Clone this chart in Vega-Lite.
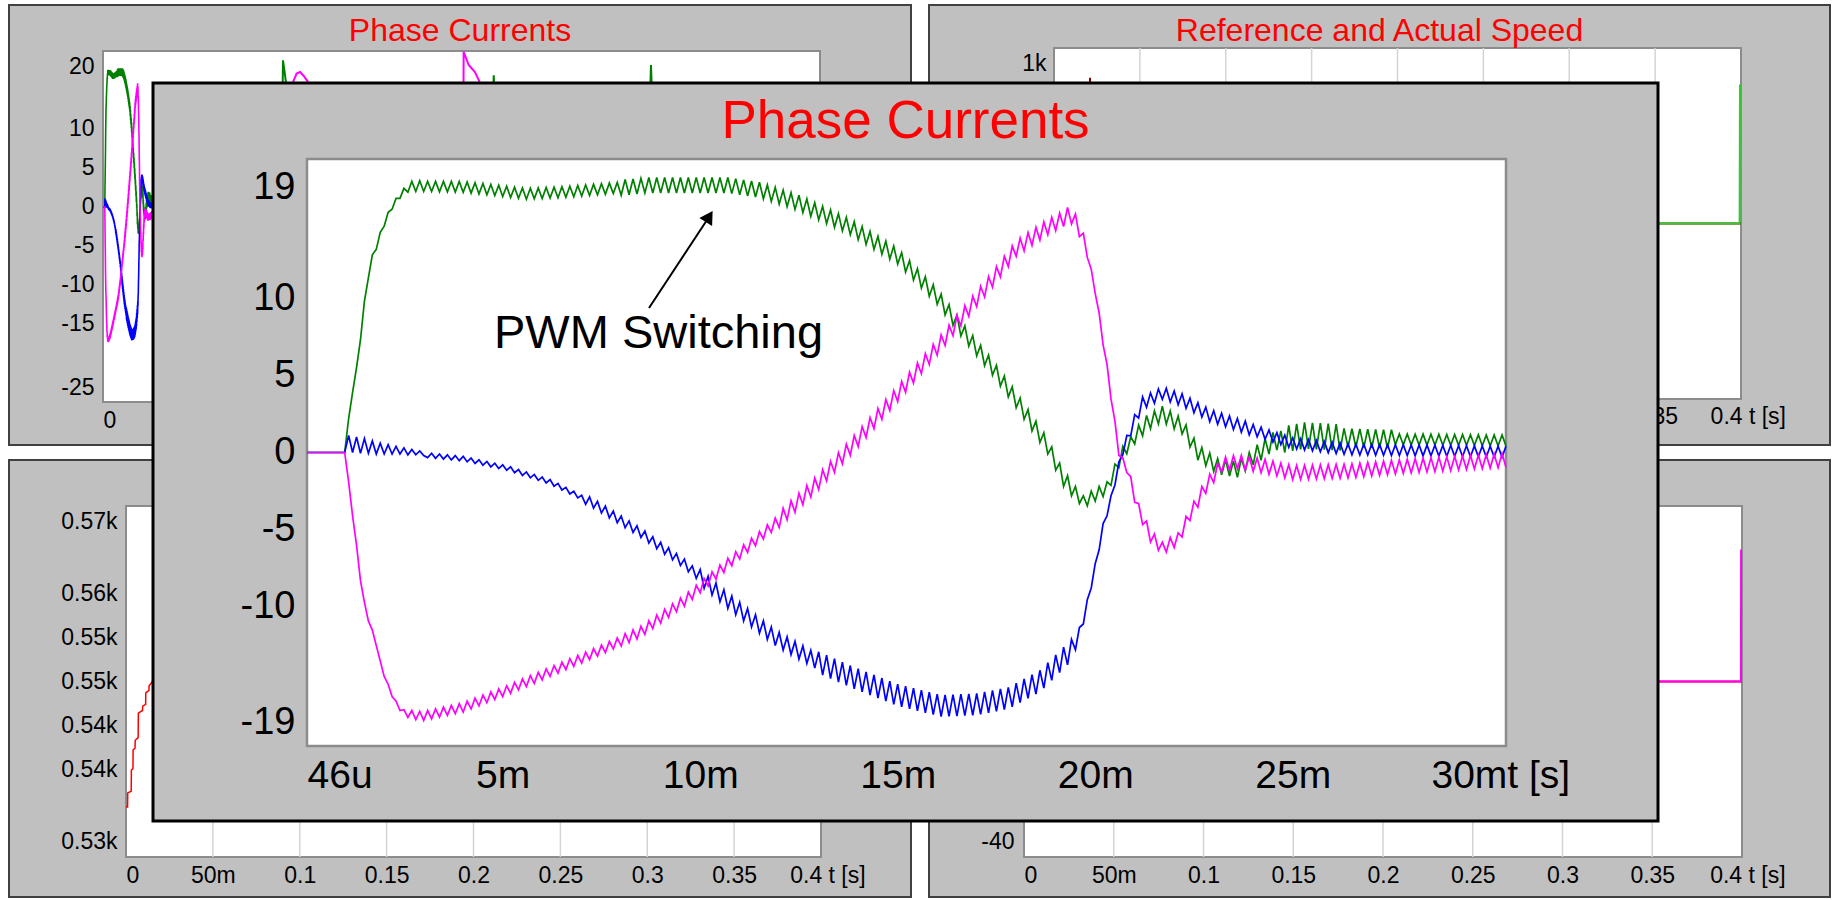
{
"$schema": "https://vega.github.io/schema/vega-lite/v6.json",
"background": "#ffffff",
"padding": {"left": 8, "top": 4, "right": 2, "bottom": 2},
"config": {
  "font": "Liberation Sans",
  "view": {"stroke": null},
  "axis": {"domain": false, "ticks": false, "grid": false, "labelColor": "#000000", "labelFont": "Liberation Sans", "labelOverlap": false, "labelFlush": false, "zindex": 1},
  "title": {"font": "Liberation Sans", "fontWeight": "normal", "color": "#ff0000", "anchor": "middle", "frame": "group", "baseline": "alphabetic"}
},
"datasets": {
  "bgx": [{"v":50},{"v":100},{"v":150},{"v":200},{"v":250},{"v":300},{"v":350}],
  "pc": [
{"t":0.046,"g":0,"b":0,"m":0},{"t":1.0,"g":0,"b":0,"m":0},
{"t":1.1,"g":2.2,"b":1.1,"m":-1.9},{"t":1.2,"g":3.9,"b":0,"m":-4.1},{"t":1.3,"g":5.5,"b":1.0,"m":-6.0},{"t":1.4,"g":7.3,"b":-0.05,"m":-8.3},{"t":1.5,"g":9.8,"b":0.9,"m":-9.7},{"t":1.6,"g":11.3,"b":-0.05,"m":-10.9},{"t":1.7,"g":12.8,"b":0.75,"m":-11.5},{"t":1.8,"g":13.15,"b":-0.1,"m":-12.5},{"t":1.9,"g":14.25,"b":0.6,"m":-13.5},{"t":2.0,"g":14.65,"b":-0.1,"m":-14.5},
{"t":2.1,"g":15.55,"b":0.5,"m":-15.0},{"t":2.2,"g":15.75,"b":-0.1,"m":-15.8},{"t":2.3,"g":16.45,"b":0.4,"m":-16.1},{"t":2.4,"g":16.45,"b":-0.1,"m":-16.7},{"t":2.5,"g":17.1,"b":0.3,"m":-16.65},{"t":2.6,"g":16.85,"b":-0.15,"m":-17.15},{"t":2.7,"g":17.55,"b":0.2,"m":-16.7},{"t":2.8,"g":16.9,"b":-0.15,"m":-17.3},{"t":2.9,"g":17.6,"b":0.1,"m":-16.75},{"t":3.0,"g":16.9,"b":-0.2,"m":-17.35},
{"t":3.1,"g":17.55,"b":-0.33,"m":-16.7},{"t":3.2,"g":16.9,"b":-0.05,"m":-17.24},{"t":3.3,"g":17.55,"b":-0.38,"m":-16.6},{"t":3.4,"g":16.87,"b":-0.1,"m":-17.13},{"t":3.5,"g":17.55,"b":-0.43,"m":-16.48},{"t":3.6,"g":16.87,"b":-0.15,"m":-17.02},{"t":3.7,"g":17.55,"b":-0.48,"m":-16.37},{"t":3.8,"g":16.86,"b":-0.2,"m":-16.91},{"t":3.9,"g":17.55,"b":-0.53,"m":-16.26},{"t":4.0,"g":16.85,"b":-0.25,"m":-16.8},
{"t":4.1,"g":17.52,"b":-0.6,"m":-16.1},{"t":4.2,"g":16.79,"b":-0.36,"m":-16.6},{"t":4.3,"g":17.47,"b":-0.71,"m":-15.9},{"t":4.4,"g":16.74,"b":-0.47,"m":-16.4},{"t":4.5,"g":17.41,"b":-0.82,"m":-15.7},{"t":4.6,"g":16.68,"b":-0.58,"m":-16.2},{"t":4.7,"g":17.35,"b":-0.93,"m":-15.5},{"t":4.8,"g":16.63,"b":-0.69,"m":-16.0},{"t":4.9,"g":17.3,"b":-1.04,"m":-15.3},{"t":5.0,"g":16.57,"b":-0.8,"m":-15.8},
{"t":5.1,"g":17.24,"b":-1.15,"m":-15.1},{"t":5.2,"g":16.51,"b":-0.93,"m":-15.59},{"t":5.3,"g":17.18,"b":-1.31,"m":-14.88},{"t":5.4,"g":16.46,"b":-1.1,"m":-15.37},{"t":5.5,"g":17.13,"b":-1.48,"m":-14.66},{"t":5.6,"g":16.4,"b":-1.26,"m":-15.15},{"t":5.7,"g":17.11,"b":-1.64,"m":-14.45},{"t":5.8,"g":16.42,"b":-1.42,"m":-14.94},{"t":5.9,"g":17.13,"b":-1.8,"m":-14.23},{"t":6.0,"g":16.44,"b":-1.59,"m":-14.72},
{"t":6.1,"g":17.16,"b":-1.97,"m":-14.01},{"t":6.2,"g":16.47,"b":-1.75,"m":-14.5},{"t":6.3,"g":17.18,"b":-2.18,"m":-13.79},{"t":6.4,"g":16.49,"b":-2.0,"m":-14.28},{"t":6.5,"g":17.2,"b":-2.43,"m":-13.57},{"t":6.6,"g":16.52,"b":-2.26,"m":-14.06},{"t":6.7,"g":17.24,"b":-2.69,"m":-13.35},{"t":6.8,"g":16.56,"b":-2.51,"m":-13.85},{"t":6.9,"g":17.28,"b":-2.94,"m":-13.14},{"t":7.0,"g":16.6,"b":-2.77,"m":-13.63},
{"t":7.1,"g":17.32,"b":-3.35,"m":-12.92},{"t":7.2,"g":16.64,"b":-2.87,"m":-13.41},{"t":7.3,"g":17.36,"b":-3.6,"m":-12.7},{"t":7.4,"g":16.68,"b":-3.16,"m":-13.18},{"t":7.5,"g":17.4,"b":-3.92,"m":-12.47},{"t":7.6,"g":16.72,"b":-3.47,"m":-12.95},{"t":7.7,"g":17.44,"b":-4.23,"m":-12.23},{"t":7.8,"g":16.76,"b":-3.79,"m":-12.72},{"t":7.9,"g":17.48,"b":-4.55,"m":-12.0},{"t":8.0,"g":16.65,"b":-4.11,"m":-12.53},
{"t":8.1,"g":17.67,"b":-4.87,"m":-11.72},{"t":8.2,"g":16.69,"b":-4.43,"m":-12.3},{"t":8.3,"g":17.71,"b":-5.18,"m":-11.48},{"t":8.4,"g":16.73,"b":-4.74,"m":-12.07},{"t":8.5,"g":17.75,"b":-5.5,"m":-11.25},{"t":8.6,"g":16.8,"b":-5.08,"m":-11.77},{"t":8.7,"g":17.8,"b":-5.86,"m":-10.89},{"t":8.8,"g":16.8,"b":-5.45,"m":-11.4},{"t":8.9,"g":17.8,"b":-6.23,"m":-10.52},{"t":9.0,"g":16.8,"b":-5.81,"m":-11.04},
{"t":9.1,"g":17.8,"b":-6.59,"m":-10.16},{"t":9.2,"g":16.8,"b":-6.17,"m":-10.68},{"t":9.3,"g":17.8,"b":-6.95,"m":-9.8},{"t":9.4,"g":16.8,"b":-6.54,"m":-10.31},{"t":9.5,"g":17.8,"b":-7.32,"m":-9.43},{"t":9.6,"g":16.8,"b":-6.9,"m":-9.95},{"t":9.7,"g":17.8,"b":-7.72,"m":-9.03},{"t":9.8,"g":16.8,"b":-7.34,"m":-9.51},{"t":9.9,"g":17.8,"b":-8.15,"m":-8.6},{"t":10.0,"g":16.8,"b":-7.57,"m":-9.08},
{"t":10.1,"g":17.8,"b":-8.79,"m":-8.16},{"t":10.2,"g":16.8,"b":-8.01,"m":-8.64},{"t":10.3,"g":17.8,"b":-9.23,"m":-7.72},{"t":10.4,"g":16.8,"b":-8.45,"m":-8.2},{"t":10.5,"g":17.8,"b":-9.66,"m":-7.29},{"t":10.6,"g":16.8,"b":-8.88,"m":-7.77},{"t":10.7,"g":17.8,"b":-10.1,"m":-6.85},{"t":10.8,"g":16.76,"b":-9.3,"m":-7.33},{"t":10.9,"g":17.73,"b":-10.5,"m":-6.42},{"t":11.0,"g":16.69,"b":-9.7,"m":-6.9},
{"t":11.1,"g":17.65,"b":-10.9,"m":-5.98},{"t":11.2,"g":16.61,"b":-10.1,"m":-6.47},{"t":11.3,"g":17.58,"b":-11.3,"m":-5.55},{"t":11.4,"g":16.54,"b":-10.5,"m":-6.03},{"t":11.5,"g":17.5,"b":-11.7,"m":-5.12},{"t":11.6,"g":16.42,"b":-10.9,"m":-5.6},{"t":11.7,"g":17.33,"b":-12.1,"m":-4.68},{"t":11.8,"g":16.25,"b":-11.3,"m":-5.17},{"t":11.9,"g":17.16,"b":-12.5,"m":-4.25},{"t":12.0,"g":16.08,"b":-11.65,"m":-4.85},
{"t":12.1,"g":16.99,"b":-12.79,"m":-3.61},{"t":12.2,"g":15.91,"b":-11.94,"m":-4.36},{"t":12.3,"g":16.82,"b":-13.08,"m":-3.12},{"t":12.4,"g":15.74,"b":-12.23,"m":-3.87},{"t":12.5,"g":16.65,"b":-13.37,"m":-2.63},{"t":12.6,"g":15.53,"b":-12.52,"m":-3.38},{"t":12.7,"g":16.41,"b":-13.66,"m":-2.14},{"t":12.8,"g":15.29,"b":-12.81,"m":-2.89},{"t":12.9,"g":16.17,"b":-13.95,"m":-1.65},{"t":13.0,"g":15.06,"b":-12.9,"m":-2.4},
{"t":13.1,"g":15.94,"b":-14.41,"m":-1.12},{"t":13.2,"g":14.82,"b":-13.12,"m":-1.84},{"t":13.3,"g":15.7,"b":-14.63,"m":-0.57},{"t":13.4,"g":14.58,"b":-13.34,"m":-1.29},{"t":13.5,"g":15.46,"b":-14.86,"m":-0.01},{"t":13.6,"g":14.34,"b":-13.57,"m":-0.73},{"t":13.7,"g":15.22,"b":-15.08,"m":0.54},{"t":13.8,"g":14.1,"b":-13.79,"m":-0.18},{"t":13.9,"g":14.94,"b":-15.3,"m":1.1},{"t":14.0,"g":13.78,"b":-14.0,"m":0.39},
{"t":14.1,"g":14.63,"b":-15.5,"m":1.68},{"t":14.2,"g":13.47,"b":-14.2,"m":0.97},{"t":14.3,"g":14.31,"b":-15.7,"m":2.26},{"t":14.4,"g":13.15,"b":-14.4,"m":1.55},{"t":14.5,"g":13.99,"b":-15.9,"m":2.85},{"t":14.6,"g":12.83,"b":-14.6,"m":2.14},{"t":14.7,"g":13.68,"b":-16.1,"m":3.43},{"t":14.8,"g":12.52,"b":-14.8,"m":2.72},{"t":14.9,"g":13.36,"b":-16.3,"m":4.01},{"t":15.0,"g":12.2,"b":-15.0,"m":3.3},
{"t":15.1,"g":12.94,"b":-16.46,"m":4.6},{"t":15.2,"g":11.68,"b":-15.13,"m":3.9},{"t":15.3,"g":12.42,"b":-16.59,"m":5.2},{"t":15.4,"g":11.16,"b":-15.25,"m":4.5},{"t":15.5,"g":11.9,"b":-16.72,"m":5.8},{"t":15.6,"g":10.64,"b":-15.38,"m":5.1},{"t":15.7,"g":11.38,"b":-16.85,"m":6.4},{"t":15.8,"g":10.12,"b":-15.51,"m":5.7},{"t":15.9,"g":10.86,"b":-16.97,"m":7.0},{"t":16.0,"g":9.6,"b":-15.64,"m":6.3},
{"t":16.1,"g":10.26,"b":-17.1,"m":7.61},{"t":16.2,"g":8.91,"b":-15.69,"m":6.93},{"t":16.3,"g":9.57,"b":-17.08,"m":8.24},{"t":16.4,"g":8.23,"b":-15.67,"m":7.56},{"t":16.5,"g":8.89,"b":-17.06,"m":8.87},{"t":16.6,"g":7.54,"b":-15.64,"m":8.19},{"t":16.7,"g":8.2,"b":-17.03,"m":9.5},{"t":16.8,"g":6.89,"b":-15.62,"m":8.81},{"t":16.9,"g":7.57,"b":-17.01,"m":10.13},{"t":17.0,"g":6.26,"b":-15.6,"m":9.44},
{"t":17.1,"g":6.94,"b":-16.95,"m":10.76},{"t":17.2,"g":5.63,"b":-15.5,"m":10.07},{"t":17.3,"g":6.31,"b":-16.85,"m":11.39},{"t":17.4,"g":5.0,"b":-15.4,"m":10.7},{"t":17.5,"g":5.65,"b":-16.75,"m":12.03},{"t":17.6,"g":4.3,"b":-15.3,"m":11.37},{"t":17.7,"g":4.95,"b":-16.65,"m":12.7},{"t":17.8,"g":3.6,"b":-15.2,"m":12.03},{"t":17.9,"g":4.25,"b":-16.46,"m":13.37},{"t":18.0,"g":2.9,"b":-14.93,"m":12.7},
{"t":18.1,"g":3.53,"b":-16.19,"m":13.88},{"t":18.2,"g":2.15,"b":-14.65,"m":13.05},{"t":18.3,"g":2.78,"b":-15.91,"m":14.23},{"t":18.4,"g":1.4,"b":-14.38,"m":13.4},{"t":18.5,"g":2.03,"b":-15.64,"m":14.58},{"t":18.6,"g":0.65,"b":-14.1,"m":13.75},{"t":18.7,"g":1.28,"b":-15.25,"m":14.93},{"t":18.8,"g":-0.1,"b":-13.6,"m":14.1},{"t":18.9,"g":0.37,"b":-14.75,"m":15.23},{"t":19.0,"g":-1.15,"b":-13.1,"m":14.37},
{"t":19.1,"g":-0.68,"b":-14.25,"m":15.5},{"t":19.2,"g":-2.2,"b":-12.6,"m":14.63},{"t":19.3,"g":-1.5,"b":-13.75,"m":15.87},{"t":19.4,"g":-2.8,"b":-12.1,"m":14.8},{"t":19.5,"g":-2.2,"b":-12.77,"m":15.43},{"t":19.6,"g":-3.3,"b":-11.33,"m":13.97},{"t":19.7,"g":-2.8,"b":-11.1,"m":14.2},{"t":19.8,"g":-3.45,"b":-9.53,"m":12.63},{"t":19.9,"g":-2.5,"b":-8.77,"m":11.87},{"t":20.0,"g":-3.15,"b":-7.2,"m":10.3},
{"t":20.1,"g":-2.2,"b":-6.3,"m":9.03},{"t":20.2,"g":-2.85,"b":-4.6,"m":6.97},{"t":20.3,"g":-1.9,"b":-4.1,"m":5.7},{"t":20.4,"g":-2.13,"b":-2.8,"m":3.47},{"t":20.5,"g":-0.75,"b":-2.1,"m":2.03},{"t":20.6,"g":-0.98,"b":-0.6,"m":-0.2},{"t":20.7,"g":0.4,"b":-0.15,"m":-0.35},{"t":20.8,"g":-0.08,"b":1.1,"m":-1.3},{"t":20.9,"g":1.03,"b":1.08,"m":-1.57},{"t":21.0,"g":0.55,"b":2.45,"m":-3.23},
{"t":21.1,"g":1.77,"b":2.23,"m":-3.3},{"t":21.2,"g":1.08,"b":3.6,"m":-4.67},{"t":21.3,"g":2.4,"b":2.93,"m":-4.43},{"t":21.4,"g":1.55,"b":3.86,"m":-5.8},{"t":21.5,"g":2.7,"b":3.19,"m":-5.27},{"t":21.6,"g":1.85,"b":4.12,"m":-6.33},{"t":21.7,"g":3.0,"b":3.45,"m":-5.8},{"t":21.8,"g":1.84,"b":4.16,"m":-6.45},{"t":21.9,"g":2.68,"b":3.27,"m":-5.5},{"t":22.0,"g":1.52,"b":3.98,"m":-6.15},
{"t":22.1,"g":2.36,"b":3.09,"m":-5.2},{"t":22.2,"g":1.2,"b":3.8,"m":-5.47},{"t":22.3,"g":1.78,"b":2.86,"m":-4.13},{"t":22.4,"g":0.35,"b":3.51,"m":-4.4},{"t":22.5,"g":0.93,"b":2.57,"m":-3.15},{"t":22.6,"g":-0.5,"b":3.23,"m":-3.55},{"t":22.7,"g":0.32,"b":2.29,"m":-2.2},{"t":22.8,"g":-0.86,"b":2.94,"m":-2.65},{"t":22.9,"g":-0.04,"b":2.0,"m":-1.4},{"t":23.0,"g":-1.22,"b":2.71,"m":-1.95},
{"t":23.1,"g":-0.4,"b":1.83,"m":-0.7},{"t":23.2,"g":-1.44,"b":2.54,"m":-1.25},{"t":23.3,"g":-0.48,"b":1.66,"m":-0.3},{"t":23.4,"g":-1.52,"b":2.37,"m":-1.15},{"t":23.5,"g":-0.56,"b":1.49,"m":-0.2},{"t":23.6,"g":-1.6,"b":2.2,"m":-1.05},{"t":23.7,"g":-0.4,"b":1.31,"m":-0.19},{"t":23.8,"g":-1.2,"b":2.03,"m":-1.14},{"t":23.9,"g":0.0,"b":1.14,"m":-0.28},{"t":24.0,"g":-0.8,"b":1.81,"m":-1.22},
{"t":24.1,"g":0.5,"b":1.02,"m":-0.36},{"t":24.2,"g":-0.5,"b":1.64,"m":-1.31},{"t":24.3,"g":0.9,"b":0.85,"m":-0.45},{"t":24.4,"g":-0.1,"b":1.46,"m":-1.41},{"t":24.5,"g":1.3,"b":0.68,"m":-0.56},{"t":24.6,"g":0.15,"b":1.29,"m":-1.52},{"t":24.7,"g":1.4,"b":0.51,"m":-0.68},{"t":24.8,"g":0.0,"b":1.12,"m":-1.64},{"t":24.9,"g":1.75,"b":0.34,"m":-0.79},{"t":25.0,"g":0.1,"b":0.95,"m":-1.75},
{"t":25.1,"g":1.85,"b":0.22,"m":-0.84},{"t":25.2,"g":0.2,"b":0.89,"m":-1.74},{"t":25.3,"g":1.95,"b":0.16,"m":-0.83},{"t":25.4,"g":0.24,"b":0.84,"m":-1.72},{"t":25.5,"g":1.92,"b":0.11,"m":-0.82},{"t":25.6,"g":0.21,"b":0.78,"m":-1.71},{"t":25.7,"g":1.9,"b":0.05,"m":-0.8},{"t":25.8,"g":0.18,"b":0.72,"m":-1.69},{"t":25.9,"g":1.87,"b":-0.01,"m":-0.79},{"t":26.0,"g":0.15,"b":0.66,"m":-1.68},
{"t":26.1,"g":1.84,"b":-0.06,"m":-0.77},{"t":26.2,"g":0.13,"b":0.61,"m":-1.66},{"t":26.3,"g":1.56,"b":-0.12,"m":-0.76},{"t":26.4,"g":0.35,"b":0.55,"m":-1.65},{"t":26.5,"g":1.54,"b":-0.15,"m":-0.73},{"t":26.6,"g":0.34,"b":0.54,"m":-1.61},{"t":26.7,"g":1.53,"b":-0.16,"m":-0.69},{"t":26.8,"g":0.32,"b":0.54,"m":-1.56},{"t":26.9,"g":1.51,"b":-0.17,"m":-0.64},{"t":27.0,"g":0.31,"b":0.53,"m":-1.52},
{"t":27.1,"g":1.5,"b":-0.18,"m":-0.6},{"t":27.2,"g":0.29,"b":0.52,"m":-1.48},{"t":27.3,"g":1.48,"b":-0.18,"m":-0.56},{"t":27.4,"g":0.28,"b":0.51,"m":-1.44},{"t":27.5,"g":1.47,"b":-0.19,"m":-0.51},{"t":27.6,"g":0.51,"b":0.5,"m":-1.39},{"t":27.7,"g":1.2,"b":-0.2,"m":-0.47},{"t":27.8,"g":0.5,"b":0.5,"m":-1.35},{"t":27.9,"g":1.2,"b":-0.2,"m":-0.43},{"t":28.0,"g":0.49,"b":0.49,"m":-1.32},
{"t":28.1,"g":1.19,"b":-0.21,"m":-0.4},{"t":28.2,"g":0.49,"b":0.49,"m":-1.29},{"t":28.3,"g":1.19,"b":-0.22,"m":-0.37},{"t":28.4,"g":0.48,"b":0.48,"m":-1.26},{"t":28.5,"g":1.18,"b":-0.22,"m":-0.34},{"t":28.6,"g":0.48,"b":0.47,"m":-1.23},{"t":28.7,"g":1.18,"b":-0.23,"m":-0.31},{"t":28.8,"g":0.47,"b":0.46,"m":-1.2},{"t":28.9,"g":1.17,"b":-0.24,"m":-0.28},{"t":29.0,"g":0.47,"b":0.45,"m":-1.17},
{"t":29.1,"g":1.17,"b":-0.25,"m":-0.25},{"t":29.2,"g":0.46,"b":0.44,"m":-1.13},{"t":29.3,"g":1.16,"b":-0.26,"m":-0.22},{"t":29.4,"g":0.46,"b":0.44,"m":-1.1},{"t":29.5,"g":1.15,"b":-0.27,"m":-0.19},{"t":29.6,"g":0.45,"b":0.43,"m":-1.07},{"t":29.7,"g":1.15,"b":-0.28,"m":-0.16},{"t":29.8,"g":0.44,"b":0.42,"m":-1.04},{"t":29.9,"g":1.14,"b":-0.29,"m":-0.13},{"t":30.0,"g":0.44,"b":0.41,"m":-1.01},
{"t":30.1,"g":1.14,"b":-0.29,"m":-0.1},{"t":30.2,"g":0.43,"b":0.41,"m":-0.98},{"t":30.3,"g":1.13,"b":-0.3,"m":-0.07},{"t":30.4,"g":0.43,"b":0.4,"m":-0.95}
  ],
  "pcx": [
{"t":30.4,"s":"g","i":0.43},{"t":99.5,"s":"g","i":0.5},{"t":100.4,"s":"g","i":18.8},{"t":101.2,"s":"g","i":17.5},{"t":102.5,"s":"g","i":15.2},{"t":104,"s":"g","i":8},{"t":106,"s":"g","i":2},{"t":110,"s":"g","i":0.5},{"t":215.5,"s":"g","i":0.5},{"t":218,"s":"g","i":16.9},{"t":220.5,"s":"g","i":0.5},{"t":303.5,"s":"g","i":0.5},{"t":305.7,"s":"g","i":18.2},{"t":308.5,"s":"g","i":0.5},{"t":400,"s":"g","i":0.5},
{"t":30.4,"s":"b","i":0.4},{"t":400,"s":"b","i":0},
{"t":30.4,"s":"m","i":-0.95},{"t":104.5,"s":"m","i":-0.5},{"t":106,"s":"m","i":16},{"t":108,"s":"m","i":17.1},{"t":110,"s":"m","i":17.3},{"t":112,"s":"m","i":16.8},{"t":114.4,"s":"m","i":16},{"t":117,"s":"m","i":6},{"t":120,"s":"m","i":0},{"t":200.8,"s":"m","i":0},{"t":201.2,"s":"m","i":19.9},{"t":204,"s":"m","i":18.2},{"t":207.5,"s":"m","i":17.3},{"t":210,"s":"m","i":16.1},{"t":213,"s":"m","i":9},{"t":216,"s":"m","i":0},{"t":400,"s":"m","i":0}
  ],
  "spd": [
{"t":0,"v":535.7},{"t":0.9,"v":535.7},{"t":1.0,"v":537.3},{"t":3.0,"v":537.5},{"t":3.1,"v":539.9},{"t":4.0,"v":540.1},{"t":4.1,"v":542.2},{"t":5.2,"v":542.4},{"t":5.3,"v":543.3},{"t":7.0,"v":543.6},{"t":7.1,"v":546.4},{"t":9.5,"v":546.7},{"t":9.6,"v":547.2},{"t":11.3,"v":547.4},{"t":11.4,"v":548.7},{"t":13.2,"v":549.0},{"t":13.3,"v":549.5},{"t":14.5,"v":549.8},{"t":16,"v":550.3},{"t":25,"v":552},{"t":50,"v":555},{"t":100,"v":556},{"t":400,"v":556}
  ],
  "ras": [
{"t":0,"s":"ref","v":0},{"t":20.5,"s":"ref","v":0},{"t":21,"s":"ref","v":830},{"t":21.5,"s":"ref","v":0},{"t":400,"s":"ref","v":0},
{"t":0,"s":"act","v":0},{"t":399.2,"s":"act","v":0},{"t":399.4,"s":"act","v":792}
  ],
  "trq": [
{"t":0,"s":"tqr","v":0},{"t":400,"s":"tqr","v":0},
{"t":0,"s":"tq","v":0},{"t":399.4,"s":"tq","v":0},{"t":399.5,"s":"tq","v":30.1}
  ]
},
"concat": [
 {"vconcat": [
  {"hconcat": [
   {
    "width": 902, "height": 440,
    "view": {"fill": "#c0c0c0", "stroke": "#404040", "strokeWidth": 2},
    "title": {"text": "Phase Currents", "fontSize": 32, "offset": -43},
    "encoding": {
     "x": {"field": "t", "type": "quantitative", "scale": {"domain": [-52.441, 450.767], "nice": false, "zero": false},
           "axis": {"title": null, "values": [0,50,100,150,200,250,300,350,382], "labelExpr": "datum.value == 0 ? '0' : datum.value == 50 ? '50m' : datum.value > 380 ? '0.4 t [s]' : '' + (datum.value / 1000)", "labelAlign": {"condition": {"test": "datum.value == 0 || datum.value > 380", "value": "left"}, "value": "center"}, "labelFontSize": 23, "labelPadding": 25, "labelBaseline": "alphabetic", "offset": -43}},
     "y": {"field": "i", "type": "quantitative", "scale": {"domain": [-30.513, 25.897], "nice": false, "zero": false},
           "axis": {"title": null, "values": [17.95,10,5,0,-5,-10,-15,-23.08], "labelExpr": "datum.value > 17 ? '20' : datum.value < -22 ? '-25' : '' + datum.value", "labelFontSize": 23, "labelPadding": 9, "offset": -94}}
    },
    "layer": [
     {"data": {"values": [{"t": 0, "t2": 400, "i": -25, "i2": 20}]}, "mark": {"type": "rect", "fill": "#ffffff", "stroke": "#8c8c8c", "strokeWidth": 2},
      "encoding": {"x2": {"field": "t2"}, "y2": {"field": "i2"}}},
     {"data": {"name": "bgx"}, "mark": {"type": "rule", "color": "#d4d4d4", "strokeWidth": 1.5},
      "encoding": {"x": {"field": "v", "type": "quantitative"}, "y": {"datum": -25}, "y2": {"datum": 20}}},
     {"data": {"values": [{"v":15},{"v":10},{"v":5},{"v":-5},{"v":-10},{"v":-15},{"v":-20}]}, "mark": {"type": "rule", "color": "#d4d4d4", "strokeWidth": 1.5},
      "encoding": {"y": {"field": "v", "type": "quantitative"}, "x": {"datum": 0}, "x2": {"datum": 400}}},
     {"data": {"values": [{}]}, "mark": {"type": "rule", "color": "#000000", "strokeWidth": 1.5},
      "encoding": {"y": {"datum": 0}, "x": {"datum": 0}, "x2": {"datum": 400}}},
     {"data": {"name": "pc"}, "transform": [{"fold": ["g", "b", "m"], "as": ["s", "i"]}], "mark": {"type": "line", "strokeWidth": 1.6},
      "encoding": {"color": {"field": "s", "type": "nominal", "scale": {"domain": ["g","b","m","ref","act","tq","tqr"], "range": ["#008000","#0000ff","#ff00ff","#800000","#2ecc2e","#ff00ff","#ff0000"]}, "legend": null}}},
     {"data": {"name": "pcx"}, "mark": {"type": "line", "strokeWidth": 2},
      "encoding": {"color": {"field": "s", "type": "nominal", "scale": {"domain": ["g","b","m","ref","act","tq","tqr"], "range": ["#008000","#0000ff","#ff00ff","#800000","#2ecc2e","#ff00ff","#ff0000"]}, "legend": null}}}
    ]
   },
   {
    "width": 901, "height": 440,
    "view": {"fill": "#c0c0c0", "stroke": "#404040", "strokeWidth": 2},
    "title": {"text": "Reference and Actual Speed", "fontSize": 32, "offset": -43},
    "encoding": {
     "x": {"field": "t", "type": "quantitative", "scale": {"domain": [-72.78, 451.82], "nice": false, "zero": false},
           "axis": {"title": null, "values": [0,50,100,150,200,250,300,350,382], "labelExpr": "datum.value == 0 ? '0' : datum.value == 50 ? '50m' : datum.value > 380 ? '0.4 t [s]' : '' + (datum.value / 1000)", "labelAlign": {"condition": {"test": "datum.value == 0 || datum.value > 380", "value": "left"}, "value": "center"}, "labelFontSize": 23, "labelPadding": 24, "labelBaseline": "alphabetic", "offset": -46}},
     "y": {"field": "v", "type": "quantitative", "scale": {"domain": [-1262.11, 1245.01], "nice": false, "zero": false},
           "axis": {"title": null, "values": [914.5,500,0,-500,-914.5], "labelExpr": "datum.value > 900 ? '1k' : datum.value < -900 ? '-1k' : datum.value == 0 ? '0' : (datum.value / 1000) + 'k'", "labelFontSize": 23, "labelPadding": 8, "offset": -125}}
    },
    "layer": [
     {"data": {"values": [{"t": 0, "t2": 400, "v": -1000, "v2": 1000}]}, "mark": {"type": "rect", "fill": "#ffffff", "stroke": "#8c8c8c", "strokeWidth": 2},
      "encoding": {"x2": {"field": "t2"}, "y2": {"field": "v2"}}},
     {"data": {"name": "bgx"}, "mark": {"type": "rule", "color": "#d4d4d4", "strokeWidth": 1.5},
      "encoding": {"x": {"field": "v", "type": "quantitative"}, "y": {"datum": -1000}, "y2": {"datum": 1000}}},
     {"data": {"values": [{"v":750},{"v":500},{"v":250},{"v":0},{"v":-250},{"v":-500},{"v":-750}]}, "mark": {"type": "rule", "color": "#d4d4d4", "strokeWidth": 1.5},
      "encoding": {"y": {"field": "v", "type": "quantitative"}, "x": {"datum": 0}, "x2": {"datum": 400}}},
     {"data": {"name": "ras"}, "mark": {"type": "line", "strokeWidth": 2},
      "encoding": {"color": {"field": "s", "type": "nominal", "scale": {"domain": ["g","b","m","ref","act","tq","tqr"], "range": ["#008000","#0000ff","#ff00ff","#800000","#2ecc2e","#ff00ff","#ff0000"]}, "legend": null}}}
    ]
   }
  ], "spacing": 16},
  {"hconcat": [
   {
    "width": 902, "height": 437,
    "view": {"fill": "#c0c0c0", "stroke": "#404040", "strokeWidth": 2},
    "encoding": {
     "x": {"field": "t", "type": "quantitative", "scale": {"domain": [-67.338, 451.799], "nice": false, "zero": false},
           "axis": {"title": null, "values": [0,50,100,150,200,250,300,350,382], "labelExpr": "datum.value == 0 ? '0' : datum.value == 50 ? '50m' : datum.value > 380 ? '0.4 t [s]' : '' + (datum.value / 1000)", "labelAlign": {"condition": {"test": "datum.value == 0 || datum.value > 380", "value": "left"}, "value": "center"}, "labelFontSize": 23, "labelPadding": 25, "labelBaseline": "alphabetic", "offset": -40}},
     "y": {"field": "v", "type": "quantitative", "scale": {"domain": [525.442, 575.242], "nice": false, "zero": false},
           "axis": {"title": null, "values": [568.18,560,555,550,545,540,531.71], "labelExpr": "datum.value > 568 ? '0.57k' : datum.value < 532 ? '0.53k' : datum.value == 555 ? '0.55k' : datum.value == 545 ? '0.54k' : format(datum.value / 1000, '.2f') + 'k'", "labelFontSize": 23, "labelPadding": 9, "offset": -117}}
    },
    "layer": [
     {"data": {"values": [{"t": 0, "t2": 400, "v": 530, "v2": 570}]}, "mark": {"type": "rect", "fill": "#ffffff", "stroke": "#8c8c8c", "strokeWidth": 2},
      "encoding": {"x2": {"field": "t2"}, "y2": {"field": "v2"}}},
     {"data": {"name": "bgx"}, "mark": {"type": "rule", "color": "#d4d4d4", "strokeWidth": 1.5},
      "encoding": {"x": {"field": "v", "type": "quantitative"}, "y": {"datum": 530}, "y2": {"datum": 570}}},
     {"data": {"values": [{"v":535},{"v":540},{"v":545},{"v":550},{"v":555},{"v":560},{"v":565}]}, "mark": {"type": "rule", "color": "#d4d4d4", "strokeWidth": 1.5},
      "encoding": {"y": {"field": "v", "type": "quantitative"}, "x": {"datum": 0}, "x2": {"datum": 400}}},
     {"data": {"name": "spd"}, "mark": {"type": "line", "strokeWidth": 1.5, "color": "#ff0000"}}
    ]
   },
   {
    "width": 901, "height": 437,
    "view": {"fill": "#c0c0c0", "stroke": "#404040", "strokeWidth": 2},
    "encoding": {
     "x": {"field": "t", "type": "quantitative", "scale": {"domain": [-52.925, 449.025], "nice": false, "zero": false},
           "axis": {"title": null, "values": [0,50,100,150,200,250,300,350,382], "labelExpr": "datum.value == 0 ? '0' : datum.value == 50 ? '50m' : datum.value > 380 ? '0.4 t [s]' : '' + (datum.value / 1000)", "labelAlign": {"condition": {"test": "datum.value == 0 || datum.value > 380", "value": "left"}, "value": "center"}, "labelFontSize": 23, "labelPadding": 25, "labelBaseline": "alphabetic", "offset": -40}},
     "y": {"field": "v", "type": "quantitative", "scale": {"domain": [-49.117, 50.484], "nice": false, "zero": false},
           "axis": {"title": null, "values": [36.35,20,0,-20,-36.58], "labelExpr": "datum.value > 30 ? '40' : datum.value < -30 ? '-40' : '' + datum.value", "labelFontSize": 23, "labelPadding": 10, "offset": -95}}
    },
    "layer": [
     {"data": {"values": [{"t": 0, "t2": 400, "v": -40, "v2": 40}]}, "mark": {"type": "rect", "fill": "#ffffff", "stroke": "#8c8c8c", "strokeWidth": 2},
      "encoding": {"x2": {"field": "t2"}, "y2": {"field": "v2"}}},
     {"data": {"name": "bgx"}, "mark": {"type": "rule", "color": "#d4d4d4", "strokeWidth": 1.5},
      "encoding": {"x": {"field": "v", "type": "quantitative"}, "y": {"datum": -40}, "y2": {"datum": 40}}},
     {"data": {"values": [{"v":30},{"v":20},{"v":10},{"v":0},{"v":-10},{"v":-20},{"v":-30}]}, "mark": {"type": "rule", "color": "#d4d4d4", "strokeWidth": 1.5},
      "encoding": {"y": {"field": "v", "type": "quantitative"}, "x": {"datum": 0}, "x2": {"datum": 400}}},
     {"data": {"name": "trq"}, "mark": {"type": "line", "strokeWidth": 2},
      "encoding": {"color": {"field": "s", "type": "nominal", "scale": {"domain": ["g","b","m","ref","act","tq","tqr"], "range": ["#008000","#0000ff","#ff00ff","#800000","#2ecc2e","#ff00ff","#ff0000"]}, "legend": null}}}
    ]
   }
  ], "spacing": 16}
 ], "spacing": 13},
 {"hconcat": [
  {"width": 100, "height": 10, "data": {"values": [{}]}, "mark": {"type": "point", "size": 0, "opacity": 0}},
  {
   "width": 1505, "height": 738,
   "view": {"fill": "#c0c0c0", "stroke": "#000000", "strokeWidth": 3},
   "title": {"text": "Phase Currents", "fontSize": 53, "offset": -66},
   "encoding": {
    "x": {"field": "t", "type": "quantitative", "scale": {"domain": [-3.8527, 34.2481], "nice": false, "zero": false},
          "axis": {"title": null, "values": [0.046,5,10,15,20,25,28.5], "labelExpr": "datum.value < 1 ? '46u' : datum.value > 28 ? '30mt [s]' : datum.value + 'm'", "labelAlign": {"condition": {"test": "datum.value < 1 || datum.value > 28", "value": "left"}, "value": "center"}, "labelFontSize": 39, "labelPadding": 41, "labelBaseline": "alphabetic", "offset": -75}},
    "y": {"field": "i", "type": "quantitative", "scale": {"domain": [-23.8552, 23.9199], "nice": false, "zero": false},
          "axis": {"title": null, "values": [17.13,10,5,0,-5,-10,-17.51], "labelExpr": "datum.value > 17 ? '19' : datum.value < -17 ? '-19' : '' + datum.value", "labelFontSize": 38, "labelPadding": 12, "offset": -154}}
   },
   "layer": [
    {"data": {"values": [{"t": 0.046, "t2": 30.4, "i": -19, "i2": 19}]}, "mark": {"type": "rect", "fill": "#ffffff", "stroke": "#8c8c8c", "strokeWidth": 2.5},
     "encoding": {"x2": {"field": "t2"}, "y2": {"field": "i2"}}},
    {"data": {"values": [{"v":5},{"v":10},{"v":15},{"v":20},{"v":25},{"v":30}]}, "mark": {"type": "rule", "color": "#d3d3d3", "strokeWidth": 2},
     "encoding": {"x": {"field": "v", "type": "quantitative"}, "y": {"datum": -19}, "y2": {"datum": 19}}},
    {"data": {"values": [{"v":15},{"v":10},{"v":5},{"v":-5},{"v":-10},{"v":-15}]}, "mark": {"type": "rule", "color": "#d3d3d3", "strokeWidth": 2},
     "encoding": {"y": {"field": "v", "type": "quantitative"}, "x": {"datum": 0.046}, "x2": {"datum": 30.4}}},
    {"data": {"values": [{}]}, "mark": {"type": "rule", "color": "#000000", "strokeWidth": 2},
     "encoding": {"y": {"datum": 0}, "x": {"datum": 0.046}, "x2": {"datum": 30.4}}},
    {"data": {"name": "pc"}, "transform": [{"fold": ["g", "b", "m"], "as": ["s", "i"]}], "mark": {"type": "line", "strokeWidth": 1.7},
     "encoding": {"color": {"field": "s", "type": "nominal", "scale": {"domain": ["g","b","m","ref","act","tq","tqr"], "range": ["#008000","#0000ff","#ff00ff","#800000","#2ecc2e","#ff00ff","#ff0000"]}, "legend": null}}},
    {"data": {"values": [{"t": 8.704, "i": 9.354, "t2": 10.147, "i2": 14.954}]}, "mark": {"type": "rule", "color": "#000000", "strokeWidth": 2},
     "encoding": {"x2": {"field": "t2"}, "y2": {"field": "i2"}}},
    {"data": {"values": [{"t": 10.228, "i": 15.278}]}, "mark": {"type": "point", "shape": "triangle-up", "filled": true, "color": "#000000", "size": 225, "angle": 32, "opacity": 1}},
    {"data": {"values": [{"t": 4.78, "i": 6.77, "label": "PWM Switching"}]}, "mark": {"type": "text", "align": "left", "baseline": "alphabetic", "fontSize": 47, "font": "Liberation Sans", "color": "#000000"},
     "encoding": {"text": {"field": "label"}}}
   ]
  }
 ], "spacing": 42}
],
"columns": 1,
"align": "none",
"spacing": -817
}
